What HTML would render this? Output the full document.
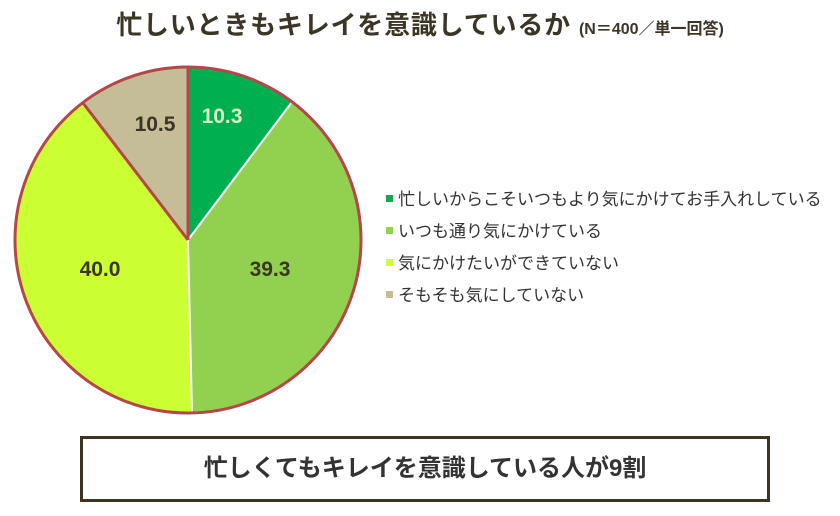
<!DOCTYPE html>
<html><head><meta charset="utf-8"><style>
body{margin:0;width:840px;height:516px;background:#fff;position:relative;overflow:hidden;font-family:"Liberation Sans","Noto Sans CJK JP",sans-serif;}
.t{position:absolute;left:0;width:840px;top:5px;text-align:center;font-weight:bold;font-size:26px;color:#3b3526;white-space:nowrap;letter-spacing:0.8px}
.t small{font-size:16px;letter-spacing:0}
.lg{position:absolute;left:386px;font-size:17px;color:#333;white-space:nowrap}
.lg i{display:inline-block;width:7px;height:7px;margin-right:5px;vertical-align:3px}
.box{position:absolute;left:80px;top:436px;width:684px;height:60px;border:3px solid #3f3322;text-align:center;line-height:60px;font-weight:bold;font-size:24px;color:#333}
</style></head><body>
<div class="t">忙しいときもキレイを意識しているか <small>(N＝400／単一回答)</small></div>
<svg width="840" height="516" style="position:absolute;left:0;top:0">
<path d="M188,240 L188,67 A173,173 0 0 1 292,102 Z" fill="#00b050"/>
<path d="M188,240 L292,102 A173,173 0 0 1 192,413 Z" fill="#92d050"/>
<path d="M188,240 L192,413 A173,173 0 0 1 83,103 Z" fill="#ccff33"/>
<path d="M188,240 L83,103 A173,173 0 0 1 188,67 Z" fill="#c4bd97"/>
<line x1="188" y1="240" x2="292" y2="102" stroke="#fff" stroke-width="2"/>
<line x1="188" y1="240" x2="192" y2="413" stroke="#fff" stroke-width="2"/>
<line x1="188" y1="240" x2="83" y2="103" stroke="#b5474a" stroke-width="3"/>
<line x1="188" y1="240" x2="188" y2="67" stroke="#b5474a" stroke-width="3"/>
<circle cx="188" cy="240" r="173" fill="none" stroke="#b5474a" stroke-width="3"/>
<g font-family="Liberation Sans, sans-serif" font-weight="bold" font-size="21" text-anchor="middle">
<text x="222" y="123" fill="#d8f5c8">10.3</text>
<text x="155" y="131" fill="#3b3526">10.5</text>
<text x="270" y="276" fill="#3b3526">39.3</text>
<text x="100" y="276" fill="#3b3526">40.0</text>
</g>
</svg>
<div class="lg" style="top:185px"><i style="background:#00b050"></i>忙しいからこそいつもより気にかけてお手入れしている</div>
<div class="lg" style="top:217px"><i style="background:#92d050"></i>いつも通り気にかけている</div>
<div class="lg" style="top:249px"><i style="background:#ccff33"></i>気にかけたいができていない</div>
<div class="lg" style="top:281px"><i style="background:#c4bd97"></i>そもそも気にしていない</div>
<div class="box">忙しくてもキレイを意識している人が9割</div>
</body></html>
